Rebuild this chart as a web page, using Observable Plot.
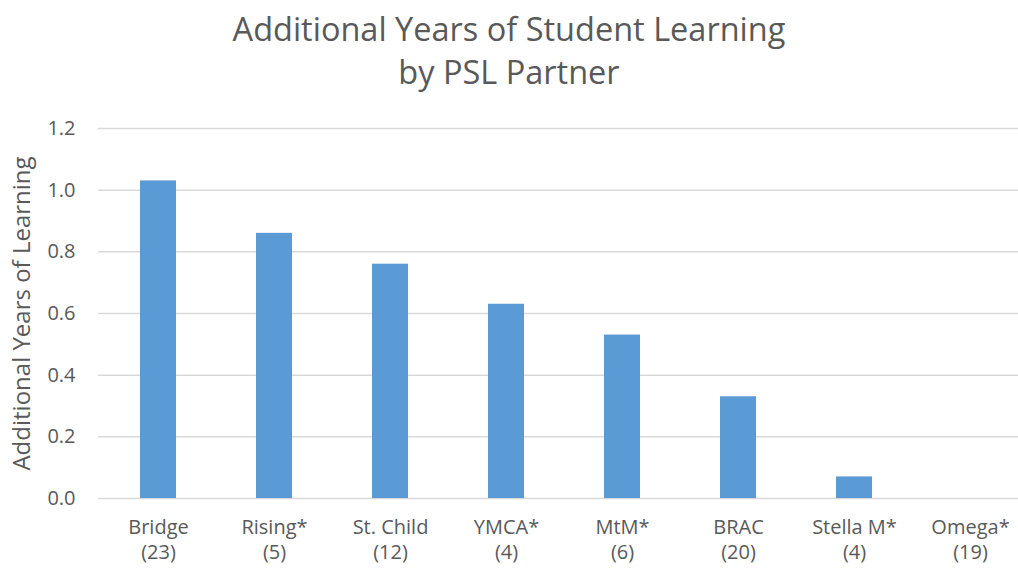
<!DOCTYPE html>
<html>
<head>
<meta charset="utf-8">
<script src="https://cdn.jsdelivr.net/npm/d3@7"></script>
<script src="https://cdn.jsdelivr.net/npm/@observablehq/plot@0.6"></script>
<style>
  html, body { margin: 0; padding: 0; background: #fff; }
  body { width: 1018px; height: 569px; overflow: hidden; font-family: "Open Sans", sans-serif; }
  #title { height: 105px; box-sizing: border-box; padding-top: 7px; text-align: center; color: #595959; font-size: 32.5px; line-height: 43px; white-space: nowrap; }
  #chart svg { display: block; }
</style>
</head>
<body>
<div id="title">Additional Years of Student Learning<br>by PSL Partner</div>
<div id="chart"></div>
<script>
const partners = ["Bridge", "Rising*", "St. Child", "YMCA*", "MtM*", "BRAC", "Stella M*", "Omega*"];
const counts = [23, 5, 12, 4, 6, 20, 4, 19];
const years = [1.03, 0.86, 0.76, 0.63, 0.53, 0.33, 0.07, 0.0];
const yTicks = [0, 0.2, 0.4, 0.6, 0.8, 1.0, 1.2];
const yTitle = "Additional Years of Learning";

const labels = partners.map((p, i) => `${p}\n(${counts[i]})`);
const data = partners.map((p, i) => ({label: labels[i], value: years[i]}));

const chart = Plot.plot({
  width: 1018,
  height: 464,
  marginLeft: 98,
  marginRight: -12,
  marginTop: 23,
  marginBottom: 71,
  style: {fontFamily: "'Open Sans', sans-serif", color: "#595959", background: "white", overflow: "hidden"},
  x: {domain: labels, paddingInner: 0.69, paddingOuter: 0.345, label: null},
  y: {domain: [0, 1.2], label: null},
  marks: [
    Plot.gridY(yTicks, {stroke: "#d9d9d9", strokeOpacity: 1, strokeWidth: 1.5}),
    Plot.barY(data, {x: "label", y: "value", fill: "#5b9bd5"}),
    Plot.axisY(yTicks, {tickSize: 0, tickPadding: 23, tickFormat: d => d.toFixed(1), fontSize: 20, label: null, fill: "#595959"}),
    Plot.axisX({tickSize: 0, tickPadding: 18, fontSize: 20, lineHeight: 1.25, label: null, fill: "#595959"}),
    Plot.text([yTitle], {frameAnchor: "left", textAnchor: "middle", rotate: -90, dx: -76, fontSize: 24, fill: "#595959"})
  ]
});
document.getElementById("chart").appendChild(chart);
</script>
</body>
</html>
